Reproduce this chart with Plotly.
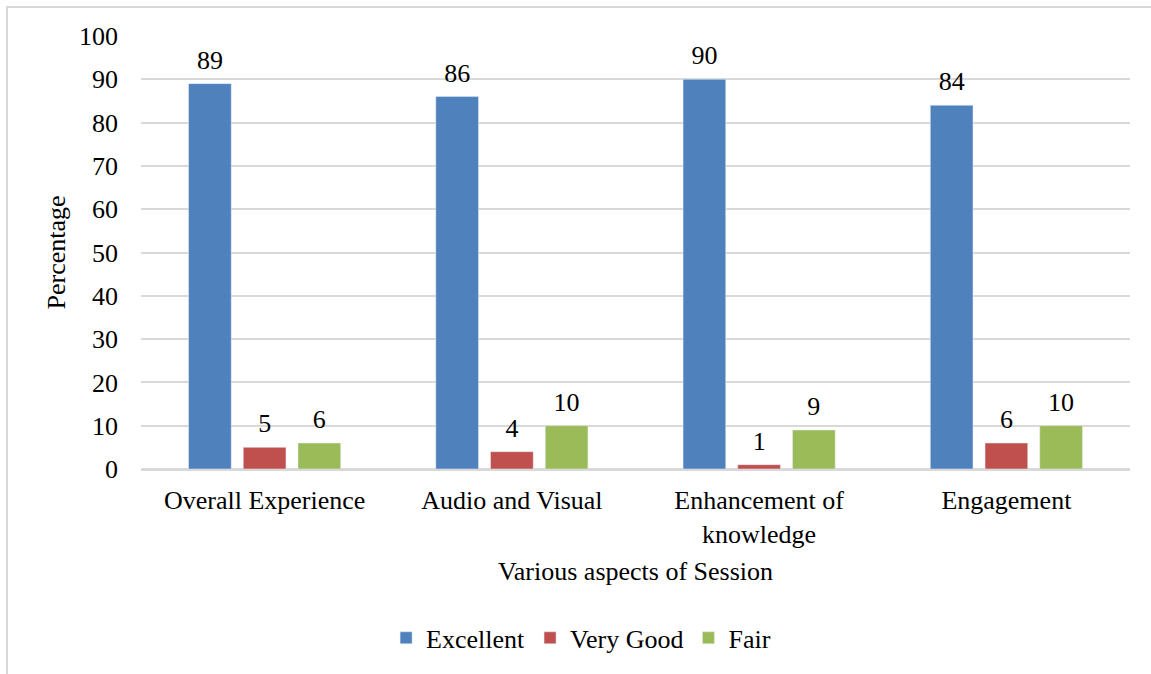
import plotly.graph_objects as go

categories = ["Overall Experience", "Audio and Visual", "Enhancement of<br>knowledge", "Engagement"]
excellent = [89, 86, 90, 84]
very_good = [5, 4, 1, 6]
fair = [6, 10, 9, 10]

series = [("Excellent", excellent, "#4f81bd"),
          ("Very Good", very_good, "#c0504d"),
          ("Fair", fair, "#9bbb59")]

FONT = "Liberation Serif, Times New Roman, serif"

fig = go.Figure()
for i, (name, vals, color) in enumerate(series):
    fig.add_trace(go.Bar(
        x=categories, y=vals, name=name, marker_color=color,
        offsetgroup=str(i), alignmentgroup="a",
    ))
for i, (name, vals, color) in enumerate(series):
    fig.add_trace(go.Scatter(
        x=categories, y=vals, mode="markers+text", text=[str(v) for v in vals],
        marker=dict(size=12, opacity=0),
        textposition="top center", textfont=dict(size=26, color="#000", family=FONT),
        offsetgroup=str(i), alignmentgroup="a", showlegend=False, hoverinfo="skip",
    ))

fig.update_layout(
    width=1151, height=674,
    margin=dict(l=141, r=21, t=36, b=205),
    paper_bgcolor="white", plot_bgcolor="white",
    font=dict(family=FONT, size=26, color="#000"),
    barmode="group", bargap=0.336, bargroupgap=0.22,
    scattermode="group", scattergap=0.336,
    legend=dict(orientation="h", x=0.445, xanchor="center", y=-0.39, yanchor="middle",
                font=dict(size=26), itemwidth=30, traceorder="normal"),
    showlegend=True,
)
fig.update_xaxes(
    showgrid=False, showline=True, linecolor="#d9d9d9", linewidth=2,
    ticks="", ticklabelstandoff=7,
    title=dict(text="Various aspects of Session", standoff=14, font=dict(size=26)),
)
fig.update_yaxes(
    range=[0, 100], dtick=10, showgrid=True, gridcolor="#d9d9d9", gridwidth=2,
    zeroline=True, zerolinecolor="#d9d9d9", zerolinewidth=2,
    ticks="", ticklabelstandoff=22,
    title=dict(text="Percentage", standoff=5, font=dict(size=26)),
)
fig.add_shape(type="rect", xref="paper", yref="paper",
              x0=(7 - 141) / 989, x1=(1160 - 141) / 989,
              y0=(469 - 690) / 433, y1=(469 - 7) / 433,
              line=dict(color="#d9d9d9", width=2), layer="below")

fig.write_html("out.html", config={"displayModeBar": False},
               post_script="document.body.style.margin='0';document.body.style.overflow='hidden';")
